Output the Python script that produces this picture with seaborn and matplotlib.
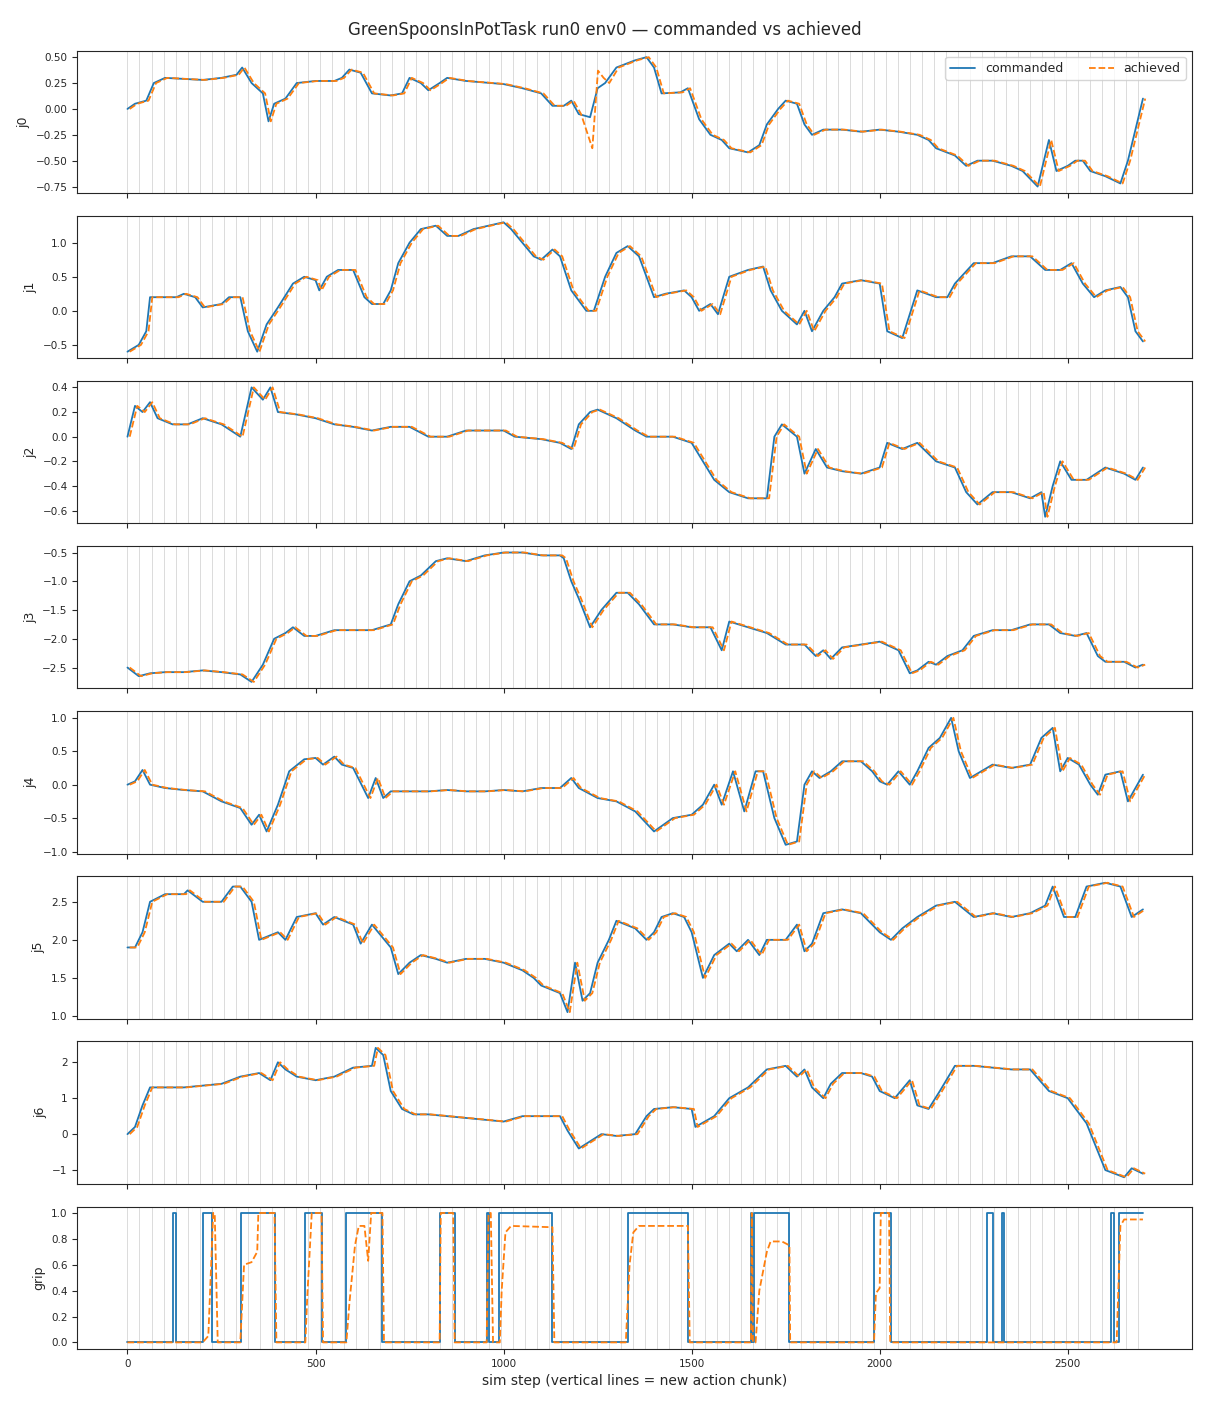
import matplotlib
matplotlib.use("Agg")
import matplotlib.pyplot as plt
import numpy as np
import seaborn as sns

# joint keypoints: (sim step, value)
j0 = [(0, 0.0), (20, 0.05), (50, 0.08), (70, 0.25), (100, 0.3), (150, 0.29), (200, 0.28), (250, 0.3), (290, 0.33),
      (305, 0.4), (330, 0.25), (360, 0.15), (375, -0.12), (390, 0.05), (420, 0.1), (450, 0.25), (500, 0.27),
      (550, 0.27), (570, 0.3), (590, 0.38), (620, 0.35), (650, 0.15), (700, 0.13), (730, 0.15), (750, 0.3),
      (780, 0.25), (800, 0.18), (830, 0.25), (850, 0.3), (900, 0.27), (1000, 0.24), (1050, 0.2), (1100, 0.15),
      (1130, 0.03), (1160, 0.03), (1180, 0.08), (1200, -0.05), (1230, -0.08), (1250, 0.2), (1270, 0.25),
      (1300, 0.4), (1350, 0.47), (1380, 0.5), (1400, 0.4), (1420, 0.15), (1470, 0.16), (1490, 0.2), (1520, -0.1),
      (1550, -0.25), (1580, -0.3), (1600, -0.38), (1650, -0.42), (1680, -0.35), (1700, -0.15), (1730, 0.0),
      (1750, 0.08), (1780, 0.05), (1800, -0.15), (1820, -0.25), (1850, -0.2), (1900, -0.2), (1950, -0.22),
      (2000, -0.2), (2050, -0.22), (2100, -0.25), (2130, -0.3), (2150, -0.38), (2200, -0.45), (2230, -0.55),
      (2260, -0.5), (2300, -0.5), (2350, -0.55), (2380, -0.6), (2420, -0.75), (2450, -0.3), (2470, -0.6),
      (2500, -0.55), (2520, -0.5), (2540, -0.5), (2560, -0.6), (2600, -0.65), (2640, -0.72), (2660, -0.5),
      (2700, 0.1)]
j1 = [(0, -0.6), (30, -0.5), (50, -0.3), (60, 0.2), (100, 0.2), (130, 0.2), (150, 0.25), (180, 0.2), (200, 0.05),
      (250, 0.1), (270, 0.2), (300, 0.2), (320, -0.3), (345, -0.6), (370, -0.2), (400, 0.05), (440, 0.4),
      (470, 0.5), (500, 0.45), (510, 0.3), (530, 0.5), (560, 0.6), (600, 0.6), (630, 0.2), (650, 0.1), (680, 0.1),
      (700, 0.3), (720, 0.7), (750, 1.0), (780, 1.2), (820, 1.25), (850, 1.1), (880, 1.1), (920, 1.2), (960, 1.25),
      (1000, 1.3), (1020, 1.2), (1050, 1.0), (1080, 0.8), (1100, 0.75), (1130, 0.9), (1150, 0.8), (1180, 0.3),
      (1220, 0.0), (1240, 0.0), (1270, 0.5), (1300, 0.85), (1330, 0.95), (1360, 0.8), (1400, 0.2), (1430, 0.25),
      (1480, 0.3), (1500, 0.2), (1520, 0.0), (1550, 0.1), (1570, -0.05), (1600, 0.5), (1650, 0.6), (1690, 0.65),
      (1710, 0.3), (1740, 0.0), (1780, -0.2), (1800, 0.0), (1820, -0.3), (1850, 0.0), (1880, 0.2), (1900, 0.4),
      (1950, 0.45), (2000, 0.4), (2020, -0.3), (2060, -0.4), (2100, 0.3), (2150, 0.2), (2180, 0.2), (2200, 0.4),
      (2250, 0.7), (2300, 0.7), (2350, 0.8), (2400, 0.8), (2440, 0.6), (2480, 0.6), (2510, 0.7), (2540, 0.4),
      (2570, 0.2), (2600, 0.3), (2640, 0.35), (2660, 0.2), (2680, -0.3), (2700, -0.45)]
j2 = [(0, 0.0), (20, 0.25), (40, 0.2), (60, 0.28), (80, 0.15), (120, 0.1), (160, 0.1), (200, 0.15), (250, 0.1),
      (300, 0.0), (330, 0.4), (360, 0.3), (380, 0.4), (400, 0.2), (450, 0.18), (500, 0.15), (550, 0.1), (600, 0.08),
      (650, 0.05), (700, 0.08), (750, 0.08), (800, 0.0), (850, 0.0), (900, 0.05), (950, 0.05), (1000, 0.05),
      (1030, 0.0), (1100, -0.02), (1150, -0.05), (1180, -0.1), (1200, 0.1), (1230, 0.2), (1250, 0.22), (1300, 0.15),
      (1350, 0.05), (1380, 0.0), (1450, 0.0), (1500, -0.05), (1530, -0.2), (1560, -0.35), (1600, -0.45),
      (1650, -0.5), (1700, -0.5), (1720, 0.0), (1740, 0.1), (1780, 0.0), (1800, -0.3), (1830, -0.1), (1860, -0.25),
      (1900, -0.28), (1950, -0.3), (2000, -0.25), (2020, -0.05), (2060, -0.1), (2100, -0.05), (2150, -0.2),
      (2200, -0.25), (2230, -0.45), (2260, -0.55), (2300, -0.45), (2350, -0.45), (2400, -0.5), (2430, -0.45),
      (2440, -0.65), (2460, -0.4), (2480, -0.2), (2510, -0.35), (2550, -0.35), (2600, -0.25), (2650, -0.3),
      (2680, -0.35), (2700, -0.25)]
j3 = [(0, -2.5), (30, -2.65), (60, -2.6), (100, -2.58), (150, -2.58), (200, -2.55), (250, -2.58), (300, -2.62),
      (330, -2.75), (360, -2.45), (390, -2.0), (420, -1.9), (440, -1.8), (470, -1.95), (500, -1.95), (550, -1.85),
      (600, -1.85), (650, -1.85), (700, -1.75), (720, -1.4), (750, -1.0), (780, -0.9), (820, -0.65), (850, -0.6),
      (900, -0.65), (950, -0.55), (1000, -0.5), (1050, -0.5), (1100, -0.55), (1150, -0.55), (1160, -0.6),
      (1180, -1.0), (1200, -1.3), (1230, -1.8), (1260, -1.5), (1300, -1.2), (1330, -1.2), (1360, -1.4),
      (1400, -1.75), (1450, -1.75), (1500, -1.8), (1550, -1.8), (1580, -2.2), (1600, -1.7), (1650, -1.8),
      (1700, -1.9), (1750, -2.1), (1800, -2.1), (1830, -2.3), (1850, -2.2), (1870, -2.35), (1900, -2.15),
      (1950, -2.1), (2000, -2.05), (2050, -2.2), (2080, -2.6), (2100, -2.55), (2130, -2.4), (2150, -2.45),
      (2180, -2.3), (2220, -2.2), (2250, -1.95), (2300, -1.85), (2350, -1.85), (2400, -1.75), (2450, -1.75),
      (2480, -1.9), (2520, -1.95), (2550, -1.9), (2580, -2.3), (2600, -2.4), (2650, -2.4), (2680, -2.5),
      (2700, -2.45)]
j4 = [(0, 0.0), (20, 0.05), (40, 0.22), (60, 0.0), (100, -0.05), (150, -0.08), (200, -0.1), (250, -0.25),
      (300, -0.35), (330, -0.6), (350, -0.45), (370, -0.7), (400, -0.3), (430, 0.2), (470, 0.38), (500, 0.4),
      (520, 0.3), (550, 0.42), (570, 0.3), (600, 0.25), (640, -0.2), (660, 0.1), (680, -0.2), (700, -0.1),
      (750, -0.1), (800, -0.1), (850, -0.08), (900, -0.1), (950, -0.1), (1000, -0.08), (1050, -0.1), (1100, -0.05),
      (1150, -0.05), (1180, 0.1), (1200, -0.05), (1250, -0.2), (1300, -0.25), (1350, -0.4), (1400, -0.7),
      (1450, -0.5), (1500, -0.45), (1530, -0.3), (1560, 0.0), (1580, -0.3), (1610, 0.2), (1640, -0.4), (1670, 0.2),
      (1690, 0.2), (1720, -0.5), (1750, -0.9), (1780, -0.85), (1800, 0.0), (1820, 0.2), (1840, 0.1), (1870, 0.2),
      (1900, 0.35), (1950, 0.35), (1980, 0.2), (2000, 0.05), (2020, 0.0), (2050, 0.2), (2080, 0.0), (2100, 0.2),
      (2130, 0.55), (2160, 0.7), (2190, 1.0), (2210, 0.5), (2240, 0.1), (2300, 0.3), (2350, 0.25), (2400, 0.3),
      (2430, 0.7), (2460, 0.85), (2480, 0.2), (2500, 0.4), (2530, 0.3), (2560, 0.0), (2580, -0.15), (2600, 0.15),
      (2640, 0.2), (2660, -0.25), (2700, 0.15)]
j5 = [(0, 1.9), (20, 1.9), (40, 2.1), (60, 2.5), (100, 2.6), (150, 2.6), (160, 2.65), (200, 2.5), (250, 2.5),
      (280, 2.7), (300, 2.7), (330, 2.5), (350, 2.0), (400, 2.1), (420, 2.0), (450, 2.3), (500, 2.35), (520, 2.2),
      (550, 2.3), (600, 2.2), (620, 1.95), (650, 2.2), (700, 1.9), (720, 1.55), (750, 1.7), (780, 1.8), (820, 1.75),
      (850, 1.7), (900, 1.75), (950, 1.75), (1000, 1.7), (1050, 1.6), (1080, 1.5), (1100, 1.4), (1150, 1.3),
      (1170, 1.05), (1190, 1.7), (1210, 1.2), (1230, 1.3), (1250, 1.7), (1280, 2.0), (1300, 2.25), (1350, 2.15),
      (1380, 2.0), (1400, 2.1), (1420, 2.3), (1450, 2.35), (1480, 2.3), (1500, 2.1), (1530, 1.5), (1560, 1.8),
      (1600, 1.95), (1620, 1.85), (1650, 2.0), (1680, 1.8), (1700, 2.0), (1750, 2.0), (1780, 2.2), (1800, 1.85),
      (1820, 1.95), (1850, 2.35), (1900, 2.4), (1950, 2.35), (2000, 2.1), (2030, 2.0), (2060, 2.15), (2100, 2.3),
      (2150, 2.45), (2200, 2.5), (2250, 2.3), (2300, 2.35), (2350, 2.3), (2400, 2.35), (2440, 2.45), (2460, 2.7),
      (2490, 2.3), (2520, 2.3), (2550, 2.7), (2600, 2.75), (2640, 2.7), (2670, 2.3), (2700, 2.4)]
j6 = [(0, 0.0), (20, 0.2), (40, 0.8), (60, 1.3), (100, 1.3), (150, 1.3), (200, 1.35), (250, 1.4), (300, 1.6),
      (350, 1.7), (380, 1.5), (400, 2.0), (420, 1.8), (450, 1.6), (500, 1.5), (550, 1.6), (600, 1.85), (650, 1.9),
      (660, 2.4), (680, 2.2), (700, 1.2), (730, 0.7), (760, 0.55), (800, 0.55), (850, 0.5), (900, 0.45), (950, 0.4),
      (1000, 0.35), (1050, 0.5), (1100, 0.5), (1150, 0.5), (1170, 0.1), (1200, -0.4), (1230, -0.2), (1260, 0.0),
      (1300, -0.05), (1350, 0.0), (1380, 0.5), (1400, 0.7), (1450, 0.75), (1500, 0.7), (1510, 0.2), (1560, 0.5),
      (1600, 1.0), (1650, 1.3), (1700, 1.8), (1750, 1.9), (1780, 1.6), (1800, 1.8), (1820, 1.3), (1850, 1.0),
      (1870, 1.4), (1900, 1.7), (1950, 1.7), (1980, 1.6), (2000, 1.2), (2040, 1.0), (2080, 1.5), (2100, 0.8),
      (2130, 0.7), (2160, 1.2), (2200, 1.9), (2250, 1.9), (2300, 1.85), (2350, 1.8), (2400, 1.8), (2450, 1.2),
      (2500, 1.0), (2550, 0.3), (2600, -1.0), (2650, -1.2), (2670, -0.95), (2700, -1.1)]

# achieved j0 deviates from commanded around step 1230
j0_glitch = [(1200, -0.05), (1230, -0.38), (1245, 0.37), (1260, 0.3), (1275, 0.25)]
ACH_LAG = 6  # achieved trails the command by a few steps

grip_cmd = [(0, 0), (120, 1), (128, 0), (200, 1), (226, 0), (301, 1), (391, 0), (473, 1), (516, 0), (582, 1),
            (678, 0), (830, 1), (870, 0), (955, 1), (962, 0), (989, 1), (1130, 0), (1330, 1), (1490, 0),
            (1657, 1), (1661, 0), (1665, 1), (1760, 0), (1985, 1), (2030, 0), (2285, 1), (2300, 0), (2325, 1),
            (2331, 0), (2615, 1), (2622, 0), (2635, 1), (2700, 1)]
grip_ach = [(0, 0), (200, 0), (215, 0.05), (228, 1.0), (232, 1), (240, 0), (300, 0), (310, 0.6), (330, 0.62),
            (345, 0.7), (348, 1.0), (391, 1), (396, 0), (473, 0), (478, 0.35), (490, 1), (516, 1), (520, 0),
            (582, 0), (590, 0.3), (605, 0.75), (615, 0.9), (630, 0.9), (640, 0.63), (648, 1.0), (678, 1), (682, 0),
            (830, 0), (833, 1), (866, 1), (870, 0), (955, 0), (960, 1), (966, 1), (972, 0), (990, 0), (995, 0.4),
            (1005, 0.85), (1020, 0.9), (1130, 0.89), (1135, 0), (1325, 0), (1335, 0.6), (1345, 0.85), (1360, 0.9),
            (1490, 0.9), (1495, 0), (1658, 0), (1660, 1), (1663, 0), (1670, 0), (1680, 0.4), (1700, 0.7),
            (1710, 0.78), (1740, 0.78), (1760, 0.75), (1762, 0), (1985, 0), (1990, 0.38), (2000, 0.42),
            (2003, 1.0), (2025, 1.0), (2028, 0), (2630, 0), (2640, 0.9), (2650, 0.95), (2700, 0.95)]

CHUNK = 32
N_STEPS = 2700
joints = {"j0": j0, "j1": j1, "j2": j2, "j3": j3, "j4": j4, "j5": j5, "j6": j6}

sns.set_style("ticks")
plt.rcParams["font.family"] = ["DejaVu Sans"]
BLUE, ORANGE = sns.color_palette("tab10")[:2]

fig, axes = plt.subplots(8, 1, figsize=(12.1, 14.08), dpi=100, sharex=True)
fig.subplots_adjust(left=0.064, right=0.985, top=0.964, bottom=0.042, hspace=0.16)

for ax, (name, pts) in zip(axes[:7], joints.items()):
    x, y = np.array(pts).T
    ach = pts
    if name == "j0":
        ach = [p for p in pts if not 1200 <= p[0] <= 1275] + j0_glitch
        ach.sort()
    ax_, ay = np.array(ach).T
    sns.lineplot(x=x, y=y, ax=ax, color=BLUE, lw=1.3, label="commanded", legend=False, estimator=None, sort=False)
    sns.lineplot(x=ax_ + ACH_LAG, y=ay, ax=ax, color=ORANGE, lw=1.3, ls="--", label="achieved", legend=False,
                 estimator=None, sort=False)
    ax.set_ylabel(name, fontsize=9)

axes[4].set_ylim(-1.03, 1.1)

gx, gy = np.array(grip_cmd).T
hx, hy = np.array(grip_ach).T
axes[7].plot(gx, gy, color=BLUE, lw=1.3, drawstyle="steps-post")
axes[7].plot(hx, hy, color=ORANGE, lw=1.3, ls="--")
axes[7].set_ylabel("grip", fontsize=9)
axes[7].set_yticks([0, 0.2, 0.4, 0.6, 0.8, 1.0])

for ax in axes:
    for s in range(0, N_STEPS + 1, CHUNK):
        ax.axvline(s, color="0.8", lw=0.6, alpha=0.8, zorder=0)
    ax.tick_params(labelsize=7.5)
    ax.set_xlim(-133, 2830)

axes[0].legend(loc="upper right", fontsize=9, ncol=2, frameon=True)
axes[7].set_xlabel("sim step (vertical lines = new action chunk)", fontsize=10)
fig.suptitle("GreenSpoonsInPotTask run0 env0 \u2014 commanded vs achieved", fontsize=12, y=0.985)
fig.savefig("out.png", dpi=100)
